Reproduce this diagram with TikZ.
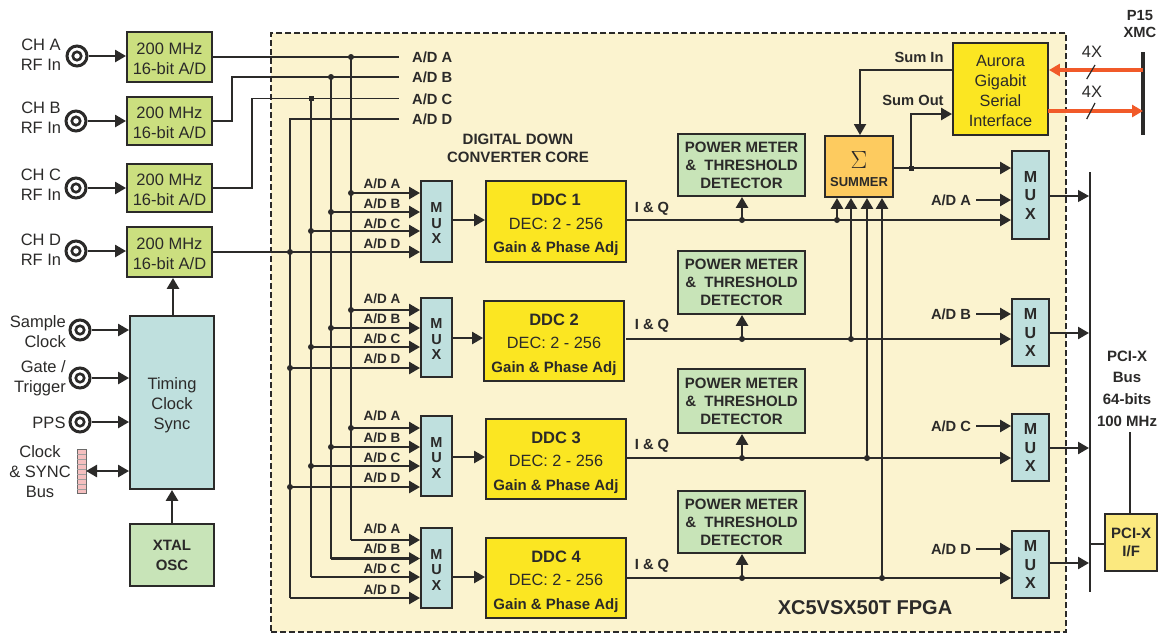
\documentclass[tikz,border=0pt]{standalone}
\usepackage{fontspec}
\setmainfont{Liberation Sans}
\usetikzlibrary{arrows.meta}
\definecolor{ink}{HTML}{2B2A29}
\definecolor{fpga}{HTML}{FBF3CF}
\definecolor{adcg}{HTML}{CBDF7F}
\definecolor{teal}{HTML}{BFE0DE}
\definecolor{lgreen}{HTML}{C8E4B8}
\definecolor{ddcy}{HTML}{FBE622}
\definecolor{sumo}{HTML}{FDCB5F}
\definecolor{pciy}{HTML}{FBE97F}
\definecolor{orng}{HTML}{F15A29}
\definecolor{pinkb}{HTML}{F5BFBF}
\newcommand\bx[7]{%
  \pgfmathsetmacro\bxw{#5-#3}\pgfmathsetmacro\bxh{#6-#4}%
  \pgfmathsetmacro\bxx{(#3+#5)/2}\pgfmathsetmacro\bxy{(#4+#6)/2}%
  \node[#1,minimum width=\bxw pt,minimum height=\bxh pt] (#2) at (\bxx,\bxy) {#7};}
\newcommand\sht[1]{\rule{0pt}{#1pt}}
\newcommand\ddctext[1]{\sht{19}{\fontsize{16.5}{23.5}\selectfont\bfseries DDC #1}\\DEC: 2 - 256\\{\fontsize{15}{23.5}\selectfont\bfseries Gain \& Phase Adj}}
\newcommand\pmtext{POWER METER\\\&\ \ THRESHOLD\\DETECTOR}
\newcommand\adctext{\sht{15}200 MHz\\16-bit A/D}
\newcommand\muxtext{\sht{13}M\\U\\X}
\begin{document}
\begin{tikzpicture}[x=1pt,y=-1pt,
  box/.style={draw=ink,line width=1.9pt,inner sep=0pt,align=center,text=ink},
  adcbox/.style={box,fill=adcg,font=\fontsize{16.5}{20}\selectfont},
  muxbox/.style={box,fill=teal,font=\fontsize{14.5}{15.5}\selectfont\bfseries},
  muxr/.style={box,fill=teal,font=\fontsize{16}{18.5}\selectfont\bfseries},
  ddcbox/.style={box,fill=ddcy,font=\fontsize{16.3}{23.5}\selectfont},
  pmbox/.style={box,fill=lgreen,font=\fontsize{15}{18}\selectfont\bfseries},
  lbl/.style={text=ink,align=center,inner sep=0pt,font=\fontsize{16.5}{20}\selectfont},
  blbl/.style={text=ink,align=center,inner sep=0pt,font=\fontsize{14.7}{17}\selectfont\bfseries},
  slbl/.style={text=ink,inner sep=0pt,font=\fontsize{13.5}{14}\selectfont\bfseries},
  coax/.style={circle,draw=ink,fill=white,line width=3pt,minimum size=20pt,inner sep=0pt},
  coaxin/.style={circle,draw=ink,fill=white,line width=2.6pt,minimum size=8.5pt,inner sep=0pt},
  dot/.style={circle,fill=ink,inner sep=0pt,minimum size=6pt},
  wire/.style={draw=ink,line width=1.9pt},
  arr/.style={draw=ink,line width=2.5pt,-{Triangle[length=11pt,width=12pt]}},
  arrn/.style={draw=ink,line width=1.1pt,-{Triangle[length=11pt,width=12pt]}},
  hot/.style={draw=orng,line width=3.6pt,-{Triangle[length=11pt,width=12pt]}},
]
\useasboundingbox (0,0) rectangle (1158,633);
% FPGA
\bx{draw=ink,fill=fpga,line width=2pt,dash pattern=on 6pt off 3pt}{fpgabox}{271}{33}{1066}{632}{}

% ADCs
\bx{adcbox}{a1}{127}{32}{212}{82}{\adctext}
\bx{adcbox}{a2}{127}{97}{212}{145}{\adctext}
\bx{adcbox}{a3}{127}{164}{212}{212}{\adctext}
\bx{adcbox}{a4}{127}{227}{212}{277}{\adctext}
% coax
\foreach \n/\x/\y in {c1/77/56,c2/76/121,c3/76/188,c4/76/251,c5/80/330,c6/80/378,c7/80/422}{
  \node[coax] (\n) at (\x,\y) {};
  \node[coaxin] (\n i) at (\x,\y) {};
}
\node[lbl] (lc1) at (41,55) {CH A\\RF In};
\node[lbl] (lc2) at (41,118) {CH B\\RF In};
\node[lbl] (lc3) at (41,185) {CH C\\RF In};
\node[lbl] (lc4) at (41,250) {CH D\\RF In};
\node[lbl,align=right,anchor=east] (lc5) at (66,332) {Sample\\Clock};
\node[lbl,align=right,anchor=east] (lc6) at (66,378) {Gate /\\Trigger};
\node[lbl] (lc7) at (49,423) {PPS};
\node[lbl] (lc8) at (40,472) {Clock\\\& SYNC\\Bus};
% Timing, XTAL
\bx{box,fill=teal,font=\fontsize{16.5}{20}\selectfont}{tcs}{130}{316}{214}{489}{\sht{17}Timing\\Clock\\Sync}
\bx{box,fill=lgreen,font=\fontsize{15}{20}\selectfont\bfseries}{xtal}{130}{524}{214}{586}{XTAL\\OSC}
\bx{draw=ink!70,fill=pinkb,line width=.8pt,inner sep=0pt}{busc}{77}{449}{86}{493}{}
\foreach \y in {454,459,...,489}{\draw[ink!45,line width=.5pt] (77,\y) -- (86,\y);}
% coax arrows
\foreach \c/\b in {c1/a1,c2/a2,c3/a3,c4/a4,c5/tcs,c6/tcs,c7/tcs}{
  \draw[arr] (\c.east) -- (\c.east -| \b.west);
}
\coordinate (bs) at (86,471);
\draw[draw=ink,line width=2.5pt,{Triangle[length=11pt,width=12pt]}-{Triangle[length=11pt,width=12pt]}] (bs) -- (bs -| tcs.west);
\draw[arr,line width=2.8pt] (xtal.north) -- (tcs.south);
\coordinate (tu) at (173,316);
\draw[arr,line width=2.8pt] (tu) -- (tu |- a4.south);

% A/D buses
\node[blbl,anchor=west] (nA) at (412,57) {A/D A};
\node[blbl,anchor=west] (nB) at (412,77) {A/D B};
\node[blbl,anchor=west] (nC) at (412,99) {A/D C};
\node[blbl,anchor=west] (nD) at (412,119) {A/D D};
\coordinate (eA) at (399,57);\coordinate (eB) at (399,77);\coordinate (eC) at (399,98.5);\coordinate (eD) at (399,119);
\coordinate (kB) at (232,77);\coordinate (kC) at (252,98.5);
\draw[wire] (a1.east |- eA) -- (eA);
\draw[wire] (a2.east) -| (kB) -- (eB);
\draw[wire] (a3.east) -| (kC) -- (eC);
\node[dot] (tA) at (351,57) {};
\node[dot] (tB) at (331,77) {};
\node[dot,rectangle,minimum size=5pt] (tC) at (311,98.5) {};
\coordinate (bA) at (351,540);\coordinate (bB) at (331,558.5);\coordinate (bC) at (311,577);\coordinate (bD) at (290,598);
\coordinate (tD) at (290,119);
\draw[wire] (tA.center) -- (bA);
\draw[wire] (tB.center) -- (bB);
\draw[wire] (tC.center) -- (bC);
\draw[wire] (eD) -- (tD) -- (bD);

% left MUX and DDC rows
\bx{muxbox}{m1}{421}{181}{452}{262}{\muxtext}
\bx{muxbox}{m2}{421}{298}{452}{377}{\muxtext}
\bx{muxbox}{m3}{421}{416}{452}{496}{\muxtext}
\bx{muxbox}{m4}{421}{528}{452}{608}{\muxtext}
\bx{ddcbox}{d1}{486}{181}{626}{262}{\ddctext{1}}
\bx{ddcbox}{d2}{484}{301}{624}{381}{\ddctext{2}}
\bx{ddcbox}{d3}{486}{419}{626}{499}{\ddctext{3}}
\bx{ddcbox}{d4}{486}{538}{626}{618}{\ddctext{4}}
\foreach \r/\ya/\yb/\yc/\yd/\la/\lb/\lc/\ld in {
  1/193/212/231/252/184/204/224/244,
  2/310/328/347/368/299/319/339/359,
  3/428/447/466/487/416/438/458/478,
  4/540/558.5/577/598/529/549/569/590}{
  \node[slbl,anchor=center] (la\r) at (382,\la) {A/D A};
  \node[slbl,anchor=center] (lb\r) at (382,\lb) {A/D B};
  \node[slbl,anchor=center] (lc\r) at (382,\lc) {A/D C};
  \node[slbl,anchor=center] (ld\r) at (382,\ld) {A/D D};
  \coordinate (ja\r) at (351,\ya);
  \coordinate (jb\r) at (331,\yb);
  \coordinate (jc\r) at (311,\yc);
  \coordinate (jd\r) at (290,\yd);
  \foreach \k in {a,b,c,d}{
    \draw[arr] (j\k\r) -- (j\k\r -| m\r.west);
  }
}
\foreach \r in {1,2,3}{
  \foreach \k in {a,b,c,d}{
    \node[dot] (dd\k\r) at (j\k\r) {};
  }
}
\coordinate (ad) at (213,252);
\draw[ink,line width=2.8pt] (ad) -- (ad -| jd1);
% MUX to DDC
\foreach \r/\y in {1/220,2/338,3/457,4/577}{
  \coordinate (mo\r) at (452,\y);
  \draw[arr] (mo\r) -- (mo\r -| d\r.west);
}

% power meters
\bx{pmbox}{p1}{678}{134}{805}{196}{\pmtext}
\bx{pmbox}{p2}{678}{251}{805}{314}{\pmtext}
\bx{pmbox}{p3}{678}{369}{805}{433}{\pmtext}
\bx{pmbox}{p4}{678}{491}{805}{553}{\pmtext}

% right MUXes
\bx{muxr}{r1}{1012}{151}{1049}{239}{M\\U\\X}
\bx{muxr}{r2}{1012}{299}{1049}{366}{M\\U\\X}
\bx{muxr}{r3}{1012}{414}{1049}{481}{M\\U\\X}
\bx{muxr}{r4}{1012}{531}{1049}{598}{M\\U\\X}

% I&Q lines
\foreach \r/\y/\ly in {1/220/209,2/339/326,3/458/446,4/578/566}{
  \node[blbl] (iq\r) at (652,\ly) {I \& Q};
  \coordinate (ol\r) at (626,\y);
  \draw[arr] (ol\r) -- (ol\r -| r\r.west);
  \node[dot] (pj\r) at (742,\y) {};
  \draw[arr,line width=2.8pt] (pj\r.center) -- (pj\r.center |- p\r.south);
}

% summer
\bx{box,fill=sumo}{sum}{825}{136}{893}{197}{}
\node[text=ink,inner sep=0pt,font=\fontsize{28}{30}\selectfont] (sg) at (859,160) {$\Sigma$};
\node[blbl,font=\fontsize{13}{16}\selectfont\bfseries] (st) at (859,182) {SUMMER};
\foreach \n/\x/\y in {s1/837/220,s2/851/339,s3/867/458,s4/882/578}{
  \node[dot] (\n) at (\x,\y) {};
  \draw[arr,line width=2.6pt] (\n.center) -- (\n.center |- sum.south);
}

% Aurora
\bx{box,fill=ddcy,font=\fontsize{16.3}{20}\selectfont}{aur}{953}{43}{1048}{135}{\sht{16}Aurora\\Gigabit\\Serial\\Interface}
\node[blbl] (lsi) at (919,57) {Sum In};
\node[blbl] (lso) at (913,100) {Sum Out};
\coordinate (si) at (953,70);\coordinate (sic) at (860,70);
\draw[arr,line width=1.9pt] (si) -- (sic) -- (sic |- sum.north);
\coordinate (smo) at (893,168);
\draw[arr] (smo) -- (smo -| r1.west);
\node[dot,rectangle,minimum size=5pt] (sj) at (911,168) {};
\coordinate (sok) at (911,114);
\draw[arr] (sj.center) -- (sok) -- (sok -| aur.west);

% XMC
\bx{fill=ink,inner sep=0pt}{xmc}{1141}{52}{1145}{135}{}
\node[blbl] (lx) at (1140,24.5) {P15\\XMC};
\coordinate (h1) at (1143,70);\coordinate (h2) at (1048,111);
\draw[hot] (h1) -- (h1 -| aur.east);
\draw[hot] (h2) -- (h2 -| xmc.center);
\node[lbl] (l4a) at (1092,52) {4X};
\node[lbl] (l4b) at (1092,92) {4X};
\coordinate (sa1) at (1086.7,79);\coordinate (sa2) at (1095,65);
\coordinate (sb1) at (1086.7,119);\coordinate (sb2) at (1095,103);
\draw[ink,line width=1.2pt] (sa1) -- (sa2);
\draw[ink,line width=1.2pt] (sb1) -- (sb2);

% A/D into right MUX
\foreach \r/\y/\t in {1/200/A,2/314/B,3/426/C,4/549/D}{
  \node[blbl] (rl\r) at (951,\y) {A/D \t};
  \coordinate (rc\r) at (976,\y);
  \draw[arr] (rc\r) -- (rc\r -| r\r.west);
}

% PCI-X bus
\bx{fill=ink,inner sep=0pt}{pbus}{1089.2}{172}{1090.8}{592}{}
\foreach \r/\y/\s in {1/196/arrn,2/333/arr,3/448/arr,4/563/arr}{
  \coordinate (ro\r) at (1049,\y);
  \draw[\s] (ro\r) -- (ro\r -| pbus.west);
}
\bx{box,fill=pciy,font=\fontsize{15}{18.5}\selectfont\bfseries}{pci}{1105}{514}{1157.4}{571}{PCI-X\\I/F}
\coordinate (pj) at (1090,544);
\draw[ink,line width=2.8pt] (pj) -- (pj -| pci.west);
\coordinate (pt) at (1130,432);
\draw[ink,line width=2.8pt] (pt) -- (pt |- pci.north);
\node[blbl,font=\fontsize{15}{21.7}\selectfont\bfseries] (lp) at (1127,388.5) {PCI-X\\Bus\\64-bits\\100 MHz};

\node[blbl,font=\fontsize{15}{18}\selectfont\bfseries] (ldc) at (518,148) {DIGITAL DOWN\\CONVERTER CORE};
\node[blbl,font=\fontsize{20}{22}\selectfont\bfseries] (lf) at (865,608) {XC5VSX50T FPGA};
\end{tikzpicture}
\end{document}
